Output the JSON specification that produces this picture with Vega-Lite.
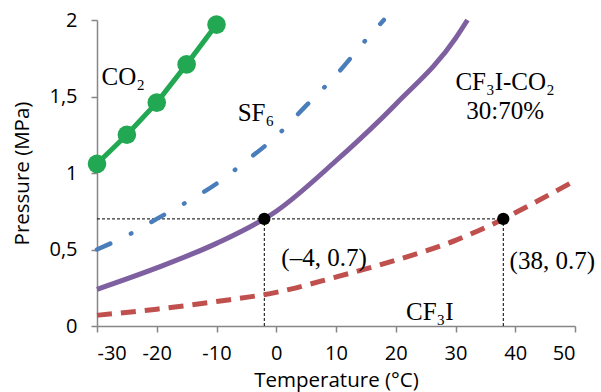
{
  "$schema": "https://vega.github.io/schema/vega-lite/v6.json",
  "width": 478,
  "height": 306,
  "autosize": {"type": "none"},
  "padding": {"left": 97, "top": 20, "right": 26, "bottom": 66},
  "background": "white",
  "config": {
    "view": {"stroke": null},
    "axis": {
      "grid": false,
      "labelFont": "Open Sans",
      "labelFontSize": 20,
      "labelColor": "#000000",
      "titleFont": "Open Sans",
      "titleFontSize": 20.5,
      "titleFontWeight": "normal",
      "titleColor": "#000000",
      "domainColor": "#868686",
      "domainWidth": 1.5,
      "tickColor": "#868686",
      "tickWidth": 1.5,
      "tickSize": 6
    }
  },
  "datasets": {
    "co2": [
      {"t": -30, "p": 1.06}, {"t": -25, "p": 1.25}, {"t": -20, "p": 1.46}, {"t": -15, "p": 1.71}, {"t": -10, "p": 1.97}
    ],
    "sf6": [
      {"t": -30, "p": 0.5}, {"t": -25, "p": 0.59}, {"t": -20, "p": 0.7}, {"t": -15, "p": 0.81}, {"t": -10, "p": 0.93},
      {"t": -5, "p": 1.08}, {"t": 0, "p": 1.24}, {"t": 5, "p": 1.44}, {"t": 10, "p": 1.64}, {"t": 15, "p": 1.87}, {"t": 18, "p": 2.0}
    ],
    "mix": [
      {"t": -30, "p": 0.24}, {"t": -20, "p": 0.38}, {"t": -10, "p": 0.54}, {"t": 0, "p": 0.75}, {"t": 10, "p": 1.08},
      {"t": 20, "p": 1.45}, {"t": 30, "p": 1.88}, {"t": 32, "p": 2.0}
    ],
    "cf3i": [
      {"t": -30, "p": 0.07}, {"t": -20, "p": 0.11}, {"t": -10, "p": 0.16}, {"t": 0, "p": 0.22}, {"t": 10, "p": 0.32},
      {"t": 20, "p": 0.43}, {"t": 30, "p": 0.56}, {"t": 38, "p": 0.7}, {"t": 40, "p": 0.74}, {"t": 50, "p": 0.95}
    ],
    "refs": [
      {"t": -30, "t2": 38, "p": 0.7, "p2": 0.7},
      {"t": -2, "t2": -2, "p": 0, "p2": 0.7},
      {"t": 38, "t2": 38, "p": 0, "p2": 0.7}
    ],
    "marks": [
      {"t": -2, "p": 0.7}, {"t": 38, "p": 0.7}
    ],
    "labels": [
      {"t": -25.6, "p": 1.63, "text": "CO₂"},
      {"t": -3.4, "p": 1.39, "text": "SF₆"},
      {"t": 38.3, "p": 1.595, "text": "CF₃I-CO₂"},
      {"t": 38.3, "p": 1.405, "text": "30:70%"},
      {"t": 8.0, "p": 0.444, "text": "(–4, 0.7)"},
      {"t": 46.2, "p": 0.425, "text": "(38, 0.7)"},
      {"t": 25.7, "p": 0.09, "text": "CF₃I"}
    ]
  },
  "encoding": {
    "x": {
      "field": "t", "type": "quantitative",
      "scale": {"domain": [-30, 50], "nice": false, "zero": false},
      "axis": {"values": [-30, -20, -10, 0, 10, 20, 30, 40, 50], "title": "Temperature (°C)", "labelExpr": "toString(datum.value)", "labelPadding": 11, "titlePadding": 7}
    },
    "y": {
      "field": "p", "type": "quantitative",
      "scale": {"domain": [0, 2], "nice": false},
      "axis": {"values": [0, 0.5, 1, 1.5, 2], "title": "Pressure (MPa)", "labelExpr": "replace(toString(datum.value), '.', ',')", "labelPadding": 14, "titlePadding": 16}
    }
  },
  "layer": [
    {
      "data": {"name": "refs"},
      "mark": {"type": "rule", "color": "#000000", "strokeWidth": 1, "strokeDash": [3, 2]},
      "encoding": {"x2": {"field": "t2"}, "y2": {"field": "p2"}}
    },
    {
      "data": {"name": "cf3i"},
      "mark": {"type": "line", "color": "#C0504D", "strokeWidth": 5, "strokeDash": [15, 9], "interpolate": "monotone"}
    },
    {
      "data": {"name": "mix"},
      "mark": {"type": "line", "color": "#7E60A0", "strokeWidth": 5, "interpolate": "monotone"}
    },
    {
      "data": {"name": "sf6"},
      "mark": {"type": "line", "color": "#4A7EBB", "strokeWidth": 4.5, "strokeCap": "round", "strokeDash": [14.5, 23, 0.5, 23], "interpolate": "monotone"}
    },
    {
      "data": {"name": "co2"},
      "mark": {"type": "line", "color": "#22A852", "strokeWidth": 5}
    },
    {
      "data": {"name": "co2"},
      "mark": {"type": "point", "shape": "circle", "filled": true, "color": "#22A852", "size": 346, "opacity": 1}
    },
    {
      "data": {"name": "marks"},
      "mark": {"type": "point", "shape": "circle", "filled": true, "color": "#000000", "size": 150, "opacity": 1}
    },
    {
      "data": {"name": "labels"},
      "mark": {"type": "text", "font": "Liberation Serif", "fontSize": 25, "color": "#000000", "align": "center", "baseline": "middle"},
      "encoding": {"text": {"field": "text"}}
    }
  ]
}
